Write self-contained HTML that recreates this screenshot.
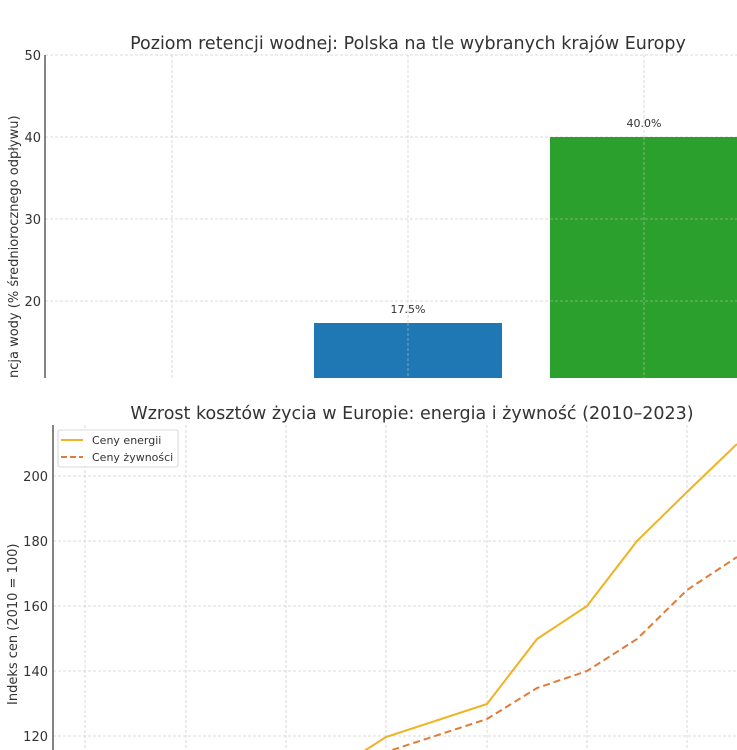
<!DOCTYPE html>
<html><head><meta charset="utf-8"><style>
body{margin:0;background:#fff;}
svg{display:block;font-family:"DejaVu Sans","Liberation Sans",sans-serif;}
</style></head><body>
<svg width="737" height="750" xmlns="http://www.w3.org/2000/svg">
<rect width="737" height="750" fill="#fff"/>
<text x="408" y="49" font-size="17.5" fill="#333" text-anchor="middle">Poziom retencji wodnej: Polska na tle wybranych krajów Europy</text>
<g stroke="#d0d0d0" stroke-dasharray="3,2" stroke-width="0.8">
<line x1="45" x2="737" y1="55" y2="55"/><line x1="45" x2="737" y1="137" y2="137"/>
<line x1="45" x2="737" y1="219" y2="219"/><line x1="45" x2="737" y1="301" y2="301"/>
<line x1="172" x2="172" y1="55" y2="378"/><line x1="408" x2="408" y1="55" y2="378"/><line x1="644" x2="644" y1="55" y2="378"/>
</g>
<rect x="314" y="323" width="188" height="55" fill="#1f77b4"/>
<rect x="550" y="137" width="190" height="241" fill="#2ca02c"/>
<g stroke="#d0d0d0" stroke-dasharray="3,2" stroke-width="0.8" opacity="0.6">
<line x1="408" x2="408" y1="323" y2="378"/><line x1="644" x2="644" y1="137" y2="378"/><line x1="550" x2="737" y1="219" y2="219"/><line x1="550" x2="737" y1="301" y2="301"/>
</g>
<line x1="45" x2="45" y1="55" y2="378" stroke="#333" stroke-width="1.2"/>
<g font-size="13" fill="#333" text-anchor="end">
<text x="41" y="60">50</text><text x="41" y="142">40</text><text x="41" y="224">30</text><text x="41" y="306">20</text>
</g>
<text x="408" y="313" font-size="11" fill="#333" text-anchor="middle">17.5%</text>
<text x="644" y="127" font-size="11" fill="#333" text-anchor="middle">40.0%</text>
<text transform="translate(18,378) rotate(-90)" font-size="13" fill="#333">ncja wody (% średniorocznego odpływu)</text>
<text x="412" y="419" font-size="17.5" fill="#333" text-anchor="middle">Wzrost kosztów życia w Europie: energia i żywność (2010–2023)</text>
<g stroke="#d0d0d0" stroke-dasharray="3,2" stroke-width="0.8">
<line x1="53" x2="737" y1="476" y2="476"/><line x1="53" x2="737" y1="541" y2="541"/>
<line x1="53" x2="737" y1="606" y2="606"/><line x1="53" x2="737" y1="671" y2="671"/><line x1="53" x2="737" y1="736" y2="736"/>
<line x1="85" x2="85" y1="425" y2="750"/><line x1="186" x2="186" y1="425" y2="750"/><line x1="286" x2="286" y1="425" y2="750"/>
<line x1="386" x2="386" y1="425" y2="750"/><line x1="487" x2="487" y1="425" y2="750"/><line x1="587" x2="587" y1="425" y2="750"/><line x1="687" x2="687" y1="425" y2="750"/>
</g>
<line x1="53" x2="53" y1="425" y2="750" stroke="#333" stroke-width="1.2"/>
<g font-size="13" fill="#333" text-anchor="end">
<text x="48" y="481">200</text><text x="48" y="546">180</text><text x="48" y="611">160</text><text x="48" y="676">140</text><text x="48" y="741">120</text>
</g>
<text transform="translate(17,705) rotate(-90)" font-size="13" fill="#333">Indeks cen (2010 = 100)</text>
<polyline fill="none" stroke="#f0b323" stroke-width="2" points="336,769 386,737 487,704 537,639 587,606 637,541 687,492 737,444"/>
<polyline fill="none" stroke="#e07b39" stroke-width="2" stroke-dasharray="7,4" points="336,784 386,752 487,719 537,688 587,671 637,639 687,590 737,557"/>
<rect x="58" y="430" width="120" height="37" fill="#fff" stroke="#ccc" stroke-width="0.8" rx="2"/>
<line x1="61" x2="83" y1="440" y2="440" stroke="#f0b323" stroke-width="2"/>
<line x1="61" x2="83" y1="457" y2="457" stroke="#e07b39" stroke-width="2" stroke-dasharray="6,3"/>
<text x="92" y="444" font-size="11" fill="#333">Ceny energii</text>
<text x="92" y="461" font-size="11" fill="#333">Ceny żywności</text>
</svg>
</body></html>
